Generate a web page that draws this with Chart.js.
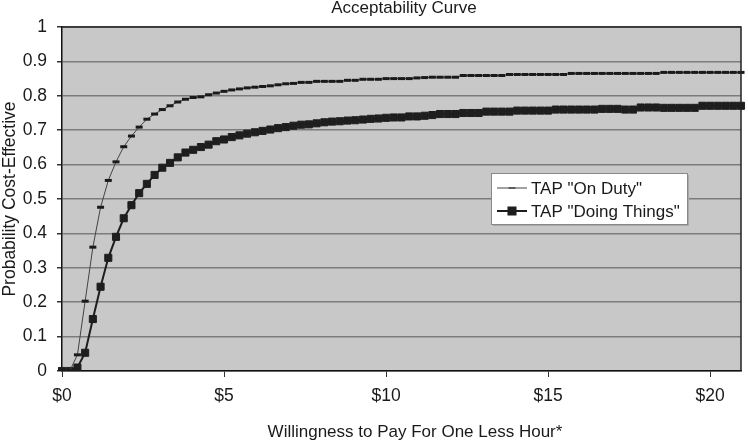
<!DOCTYPE html>
<html>
<head>
<meta charset="utf-8">
<title>Acceptability Curve</title>
<script src="https://cdn.jsdelivr.net/npm/chart.js@4.4.1/dist/chart.umd.min.js"></script>
<style>
    body { margin: 0; background: #fff; }
    #wrap { width: 748px; height: 440px; }
</style>
</head>
<body>
<div id="wrap"><canvas id="curve"></canvas></div>
<script>
// tick labels on the x axis, one every 21 points
const tickLabels = ["$0", "$5", "$10", "$15", "$20"];
const tickEvery = 21;
const yTicks = ["0", "0.1", "0.2", "0.3", "0.4", "0.5", "0.6", "0.7", "0.8", "0.9", "1"];

// TAP "On Duty"
const onDuty = [
    0, 0, 0.047, 0.203, 0.36, 0.476, 0.554, 0.608, 0.652, 0.683,
    0.709, 0.732, 0.747, 0.76, 0.771, 0.782, 0.79, 0.795, 0.797, 0.803,
    0.808, 0.813, 0.817, 0.82, 0.823, 0.825, 0.827, 0.829, 0.832, 0.835,
    0.836, 0.839, 0.839, 0.842, 0.842, 0.842, 0.842, 0.845, 0.845, 0.848,
    0.848, 0.848, 0.85, 0.85, 0.85, 0.85, 0.852, 0.853, 0.854, 0.854,
    0.854, 0.854, 0.859, 0.859, 0.859, 0.859, 0.859, 0.859, 0.862, 0.862,
    0.862, 0.862, 0.862, 0.862, 0.862, 0.862, 0.865, 0.865, 0.865, 0.865,
    0.865, 0.865, 0.865, 0.865, 0.865, 0.865, 0.865, 0.865, 0.868, 0.868,
    0.868, 0.868, 0.868, 0.868, 0.868, 0.868, 0.868, 0.868, 0.868
];

// TAP "Doing Things"
const doingThings = [
    0, 0, 0.01, 0.053, 0.151, 0.245, 0.329, 0.39, 0.444, 0.482,
    0.517, 0.544, 0.57, 0.591, 0.605, 0.621, 0.635, 0.643, 0.651, 0.658,
    0.668, 0.673, 0.68, 0.685, 0.69, 0.694, 0.698, 0.702, 0.706, 0.709,
    0.713, 0.716, 0.717, 0.72, 0.723, 0.725, 0.726, 0.728, 0.729, 0.731,
    0.733, 0.734, 0.736, 0.737, 0.737, 0.74, 0.74, 0.742, 0.744, 0.747,
    0.747, 0.747, 0.75, 0.75, 0.75, 0.754, 0.754, 0.754, 0.754, 0.757,
    0.757, 0.757, 0.757, 0.757, 0.76, 0.76, 0.76, 0.76, 0.76, 0.76,
    0.762, 0.762, 0.762, 0.76, 0.76, 0.766, 0.766, 0.766, 0.765, 0.765,
    0.765, 0.765, 0.765, 0.771, 0.771, 0.771, 0.771, 0.771, 0.771
];

const categories = onDuty.map((v, i) => i);

const font = "'Liberation Sans', Arial, sans-serif";
const textColor = "#1a1a1a";

// grey plot area, frame, titles and the legend box
const decor = {
    id: "decor",
    beforeDraw(chart) {
        const { ctx, chartArea: a } = chart;
        ctx.save();
        ctx.fillStyle = "#c8c8c8";
        ctx.fillRect(a.left, a.top, a.right - a.left, a.bottom - a.top);
        ctx.restore();
    },
    afterDatasetsDraw(chart) {
        const { ctx, chartArea: a } = chart;
        ctx.save();
        ctx.strokeStyle = "#222";
        ctx.lineWidth = 1.5;
        ctx.beginPath();
        ctx.moveTo(a.left, a.top);
        ctx.lineTo(a.right, a.top);
        ctx.lineTo(a.right, a.bottom);
        ctx.stroke();

        ctx.fillStyle = textColor;
        ctx.textAlign = "center";
        ctx.textBaseline = "middle";
        ctx.font = "17px " + font;
        ctx.fillText("Acceptability Curve", 404, 8);
        ctx.fillText("Willingness to Pay For One Less Hour*", 415, 432);

        // legend
        const bx = 491, by = 173, bw = 196, bh = 51;
        ctx.fillStyle = "#a8a8a8";
        ctx.fillRect(bx + 2, by + 2, bw, bh);
        ctx.fillStyle = "#fff";
        ctx.fillRect(bx, by, bw, bh);
        ctx.strokeStyle = "#888";
        ctx.lineWidth = 1;
        ctx.strokeRect(bx + 0.5, by + 0.5, bw, bh);

        chart.data.datasets.forEach((ds, i) => {
            const y = by + 15 + i * 23;
            ctx.strokeStyle = ds.borderColor;
            ctx.lineWidth = ds.borderWidth;
            ctx.beginPath();
            ctx.moveTo(bx + 6, y);
            ctx.lineTo(bx + 36, y);
            ctx.stroke();
            ctx.strokeStyle = ds.pointBorderColor;
            ctx.fillStyle = ds.backgroundColor;
            Chart.helpers.drawPoint(ctx, {
                pointStyle: ds.pointStyle,
                radius: ds.pointRadius,
                rotation: 0,
                borderWidth: ds.pointBorderWidth
            }, bx + 21, y);
            ctx.fillStyle = textColor;
            ctx.textAlign = "left";
            ctx.font = "17px " + font;
            ctx.fillText(ds.label, bx + 40, y + 1);
        });
        ctx.restore();
    }
};

const context = document.getElementById("curve").getContext("2d");
const curveChart = new Chart(context, {
    type: "line",
    data: {
        labels: categories,
        datasets: [{
            label: 'TAP "On Duty"',
            data: onDuty,
            borderColor: "#444",
            backgroundColor: "#1a1a1a",
            borderWidth: 1,
            pointStyle: "line",
            pointRadius: 3.5,
            pointBorderWidth: 3,
            pointBorderColor: "#1a1a1a",
            tension: 0
        }, {
            label: 'TAP "Doing Things"',
            data: doingThings,
            borderColor: "#1e1e1e",
            backgroundColor: "#1e1e1e",
            borderWidth: 2,
            pointStyle: "rect",
            pointRadius: 5,
            pointBorderWidth: 1,
            pointBorderColor: "#1e1e1e",
            tension: 0
        }]
    },
    options: {
        responsive: true,
        maintainAspectRatio: false,
        animation: false,
        layout: { padding: { top: 27, right: 4, left: 0, bottom: 0 } },
        plugins: {
            legend: { display: false },
            title: { display: false },
            tooltip: { enabled: false }
        },
        scales: {
            x: {
                type: "category",
                offset: false,
                afterFit: (scale) => { scale.height = 69; },
                grid: {
                    display: true,
                    drawOnChartArea: false,
                    drawTicks: true,
                    tickLength: 6,
                    color: "#333"
                },
                border: { color: "#111", width: 1.5 },
                ticks: {
                    autoSkip: false,
                    maxRotation: 0,
                    padding: 9,
                    color: textColor,
                    font: { family: font, size: 17.5 },
                    callback: (v, i) => (i % tickEvery === 0 ? tickLabels[i / tickEvery] : null)
                }
            },
            y: {
                min: 0,
                max: 1,
                afterFit: (scale) => { scale.width = 62; },
                grid: {
                    color: "#7c7c7c",
                    lineWidth: 1.5,
                    tickLength: 5,
                    tickColor: "#333"
                },
                border: { color: "#111", width: 1.5 },
                ticks: {
                    stepSize: 0.1,
                    padding: 10,
                    color: textColor,
                    font: { family: font, size: 17.5 },
                    callback: (v, i) => yTicks[i]
                },
                title: {
                    display: true,
                    text: "Probability Cost-Effective",
                    color: textColor,
                    font: { family: font, size: 17.5 },
                    padding: { top: 0, bottom: 0 }
                }
            }
        }
    },
    plugins: [decor]
});
</script>
</body>
</html>
